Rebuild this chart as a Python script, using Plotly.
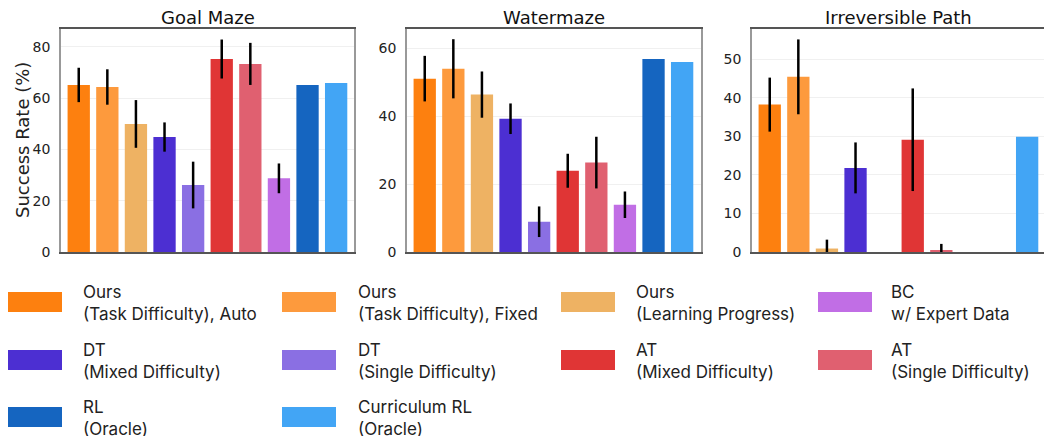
import plotly.graph_objects as go

W, H = 1044, 436

methods = ["Ours (Task Difficulty), Auto", "Ours (Task Difficulty), Fixed", "Ours (Learning Progress)",
           "DT (Mixed Difficulty)", "DT (Single Difficulty)", "AT (Mixed Difficulty)",
           "AT (Single Difficulty)", "BC w/ Expert Data", "RL (Oracle)", "Curriculum RL (Oracle)"]
legend_labels = ["Ours<br>(Task Difficulty), Auto", "Ours<br>(Task Difficulty), Fixed", "Ours<br>(Learning Progress)",
                 "DT<br>(Mixed Difficulty)", "DT<br>(Single Difficulty)", "AT<br>(Mixed Difficulty)",
                 "AT<br>(Single Difficulty)", "BC<br>w/ Expert Data", "RL<br>(Oracle)", "Curriculum RL<br>(Oracle)"]
colors = ["#fd800f", "#fd9a3d", "#eeb263", "#4c2fd2", "#8a6fe3", "#e03535",
          "#e06070", "#c16ee5", "#1565c0", "#42a5f5"]

tasks = ["Goal Maze", "Watermaze", "Irreversible Path"]
goal_maze = [65.1, 64.3, 49.9, 44.8, 26.1, 75.2, 73.3, 28.7, 65.1, 65.9]
goal_maze_err = [6.7, 6.9, 9.3, 5.7, 9.1, 7.6, 8.2, 5.8, None, None]
watermaze = [51.0, 53.9, 46.3, 39.2, 8.9, 23.9, 26.3, 13.9, 56.8, 55.9]
watermaze_err = [6.7, 8.7, 6.8, 4.5, 4.5, 5.0, 7.6, 3.9, None, None]
irreversible = [38.2, 45.4, 0.9, 21.8, 0.0, 29.1, 0.3, 0.0, 0.0, 29.9]
irreversible_err = [7.0, 9.7, 2.3, 6.6, None, 13.3, 1.8, None, None, None]

values = [goal_maze, watermaze, irreversible]
errors = [goal_maze_err, watermaze_err, irreversible_err]
y_ranges = [[0, 86.9], [0, 65.6], [0, 57.8]]
y_dtick = [20, 20, 10]

# legend arrangement (row-wise, 4 columns)
legend_order = [0, 1, 2, 7, 3, 4, 5, 6, 8, 9]

# panel pixel geometry
panels_px = [(61, 354), (407, 701), (752, 1044)]
top_px, bot_px = 29, 252

fig = go.Figure()
for p in range(3):
    ax = "" if p == 0 else str(p + 1)
    for i, m in enumerate(methods):
        e = errors[p][i]
        fig.add_trace(go.Bar(
            x=[m], y=[values[p][i]],
            marker=dict(color=colors[i], line=dict(width=0)),
            width=0.78,
            error_y=dict(type="data", array=[e if e is not None else 0], visible=e is not None,
                         color="black", thickness=2.5, width=0),
            xaxis="x" + ax, yaxis="y" + ax, showlegend=False, name=m,
        ))

layout = dict(width=W, height=H, margin=dict(l=0, r=0, t=0, b=0),
              plot_bgcolor="white", paper_bgcolor="white", bargap=0.2,
              font=dict(family="DejaVu Sans", color="#222"))
annotations = []
shapes = []
for p in range(3):
    ax = "" if p == 0 else str(p + 1)
    x0, x1 = panels_px[p]
    span = (x1 - x0) / 28.6
    xr = [-0.62, -0.62 + span]
    layout["xaxis" + ax] = dict(domain=[x0 / W, x1 / W], range=xr, anchor="y" + ax,
                                showticklabels=False, ticks="", showgrid=False,
                                showline=True, linecolor="#555", linewidth=1.5, mirror=True,
                                categoryorder="array", categoryarray=methods, fixedrange=True)
    layout["yaxis" + ax] = dict(domain=[1 - bot_px / H, 1 - top_px / H], range=y_ranges[p],
                                anchor="x" + ax, dtick=y_dtick[p], ticks="", ticklabelstandoff=6,
                                tickfont=dict(size=14, family="DejaVu Sans", color="#222"),
                                showgrid=True, gridcolor="#f0f0f0", gridwidth=1, zeroline=False,
                                showline=True, linecolor="#999", linewidth=1.5, mirror=True,
                                automargin=False)
    annotations.append(dict(text=tasks[p], x=(x0 + x1) / 2 / W, y=1 - 18 / H, xref="paper", yref="paper",
                            showarrow=False, xanchor="center", yanchor="middle",
                            font=dict(size=18, family="DejaVu Sans", color="#111")))

annotations.append(dict(text="Success Rate (%)", x=22 / W, y=1 - 140 / H, xref="paper", yref="paper",
                        showarrow=False, textangle=-90, xanchor="center", yanchor="middle",
                        font=dict(size=18, family="DejaVu Sans", color="#222")))

# legend drawn as swatches + labels
col_sw = [8, 282, 561, 818]
col_tx = [81, 356, 634, 889]
row_cy = [302, 360, 417]
for k, idx in enumerate(legend_order):
    r, c = divmod(k, 4)
    cy = row_cy[r]
    shapes.append(dict(type="rect", xref="paper", yref="paper",
                       x0=col_sw[c] / W, x1=(col_sw[c] + 54) / W,
                       y0=1 - (cy + 10) / H, y1=1 - (cy - 10) / H,
                       fillcolor=colors[idx], line=dict(width=0)))
    annotations.append(dict(text=legend_labels[idx], x=col_tx[c] / W, y=1 - (cy + 1) / H,
                            xref="paper", yref="paper", showarrow=False, align="left",
                            xanchor="left", yanchor="middle",
                            font=dict(size=17, family="Inter", color="#222")))

layout["annotations"] = annotations
layout["shapes"] = shapes
fig.update_layout(**layout)
fig.write_html("out.html", config={"displayModeBar": False},
               post_script="document.body.style.margin='0';document.body.style.overflow='hidden';")
